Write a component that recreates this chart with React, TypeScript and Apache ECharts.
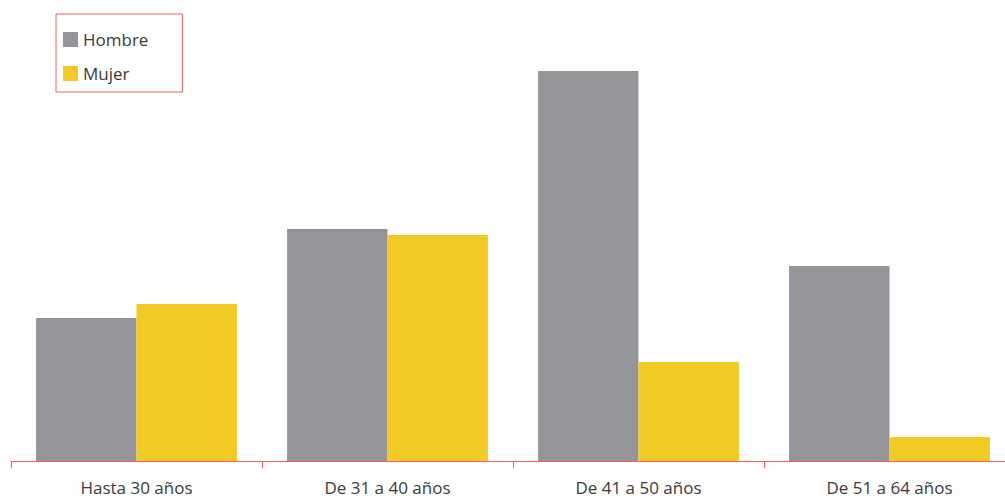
import React, { useEffect, useRef } from "react";
import * as echarts from "echarts";

const categories = ["Hasta 30 años", "De 31 a 40 años", "De 41 a 50 años", "De 51 a 64 años"];
const hombre = [143, 232, 390, 195];
const mujer = [157, 226, 99, 24];
const seriesNames = ["Hombre", "Mujer"];

export default function App() {
  const ref = useRef<HTMLDivElement>(null);
  useEffect(() => {
    const chart = echarts.init(ref.current!, null, { renderer: "svg" });
    const font = "'Open Sans', 'Noto Sans', sans-serif";
    chart.setOption({
      animation: false,
      textStyle: { fontFamily: font },
      legend: {
        orient: "vertical",
        left: 56,
        top: 14,
        padding: [17, 34, 10, 7],
        borderColor: "#f25f5f",
        borderWidth: 1,
        itemWidth: 15,
        itemHeight: 15,
        itemGap: 17,
        icon: "rect",
        textStyle: { fontSize: 17, color: "#3a3a3a", fontFamily: font },
        data: seriesNames,
      },
      grid: { left: 11, width: 1004, top: 61, bottom: 37, containLabel: false, outerBoundsMode: "none" },
      xAxis: {
        type: "category",
        data: categories,
        axisLine: { lineStyle: { color: "#f25f5f", width: 1 } },
        axisTick: { show: true, length: 7, lineStyle: { color: "#f25f5f" } },
        axisLabel: { fontSize: 17, color: "#3a3a3a", margin: 18, fontFamily: font },
      },
      yAxis: { type: "value", min: 0, max: 400, show: false, splitLine: { show: false } },
      series: [
        { name: seriesNames[0], type: "bar", data: hombre, itemStyle: { color: "#939598" }, barGap: "0%", barCategoryGap: "20%" },
        { name: seriesNames[1], type: "bar", data: mujer, itemStyle: { color: "#f2ca24" }, barGap: "0%", barCategoryGap: "20%" },
      ],
    });
    return () => chart.dispose();
  }, []);
  return <div ref={ref} style={{ position: "absolute", left: 0, top: 0, width: 1005, height: 498 }} />;
}
